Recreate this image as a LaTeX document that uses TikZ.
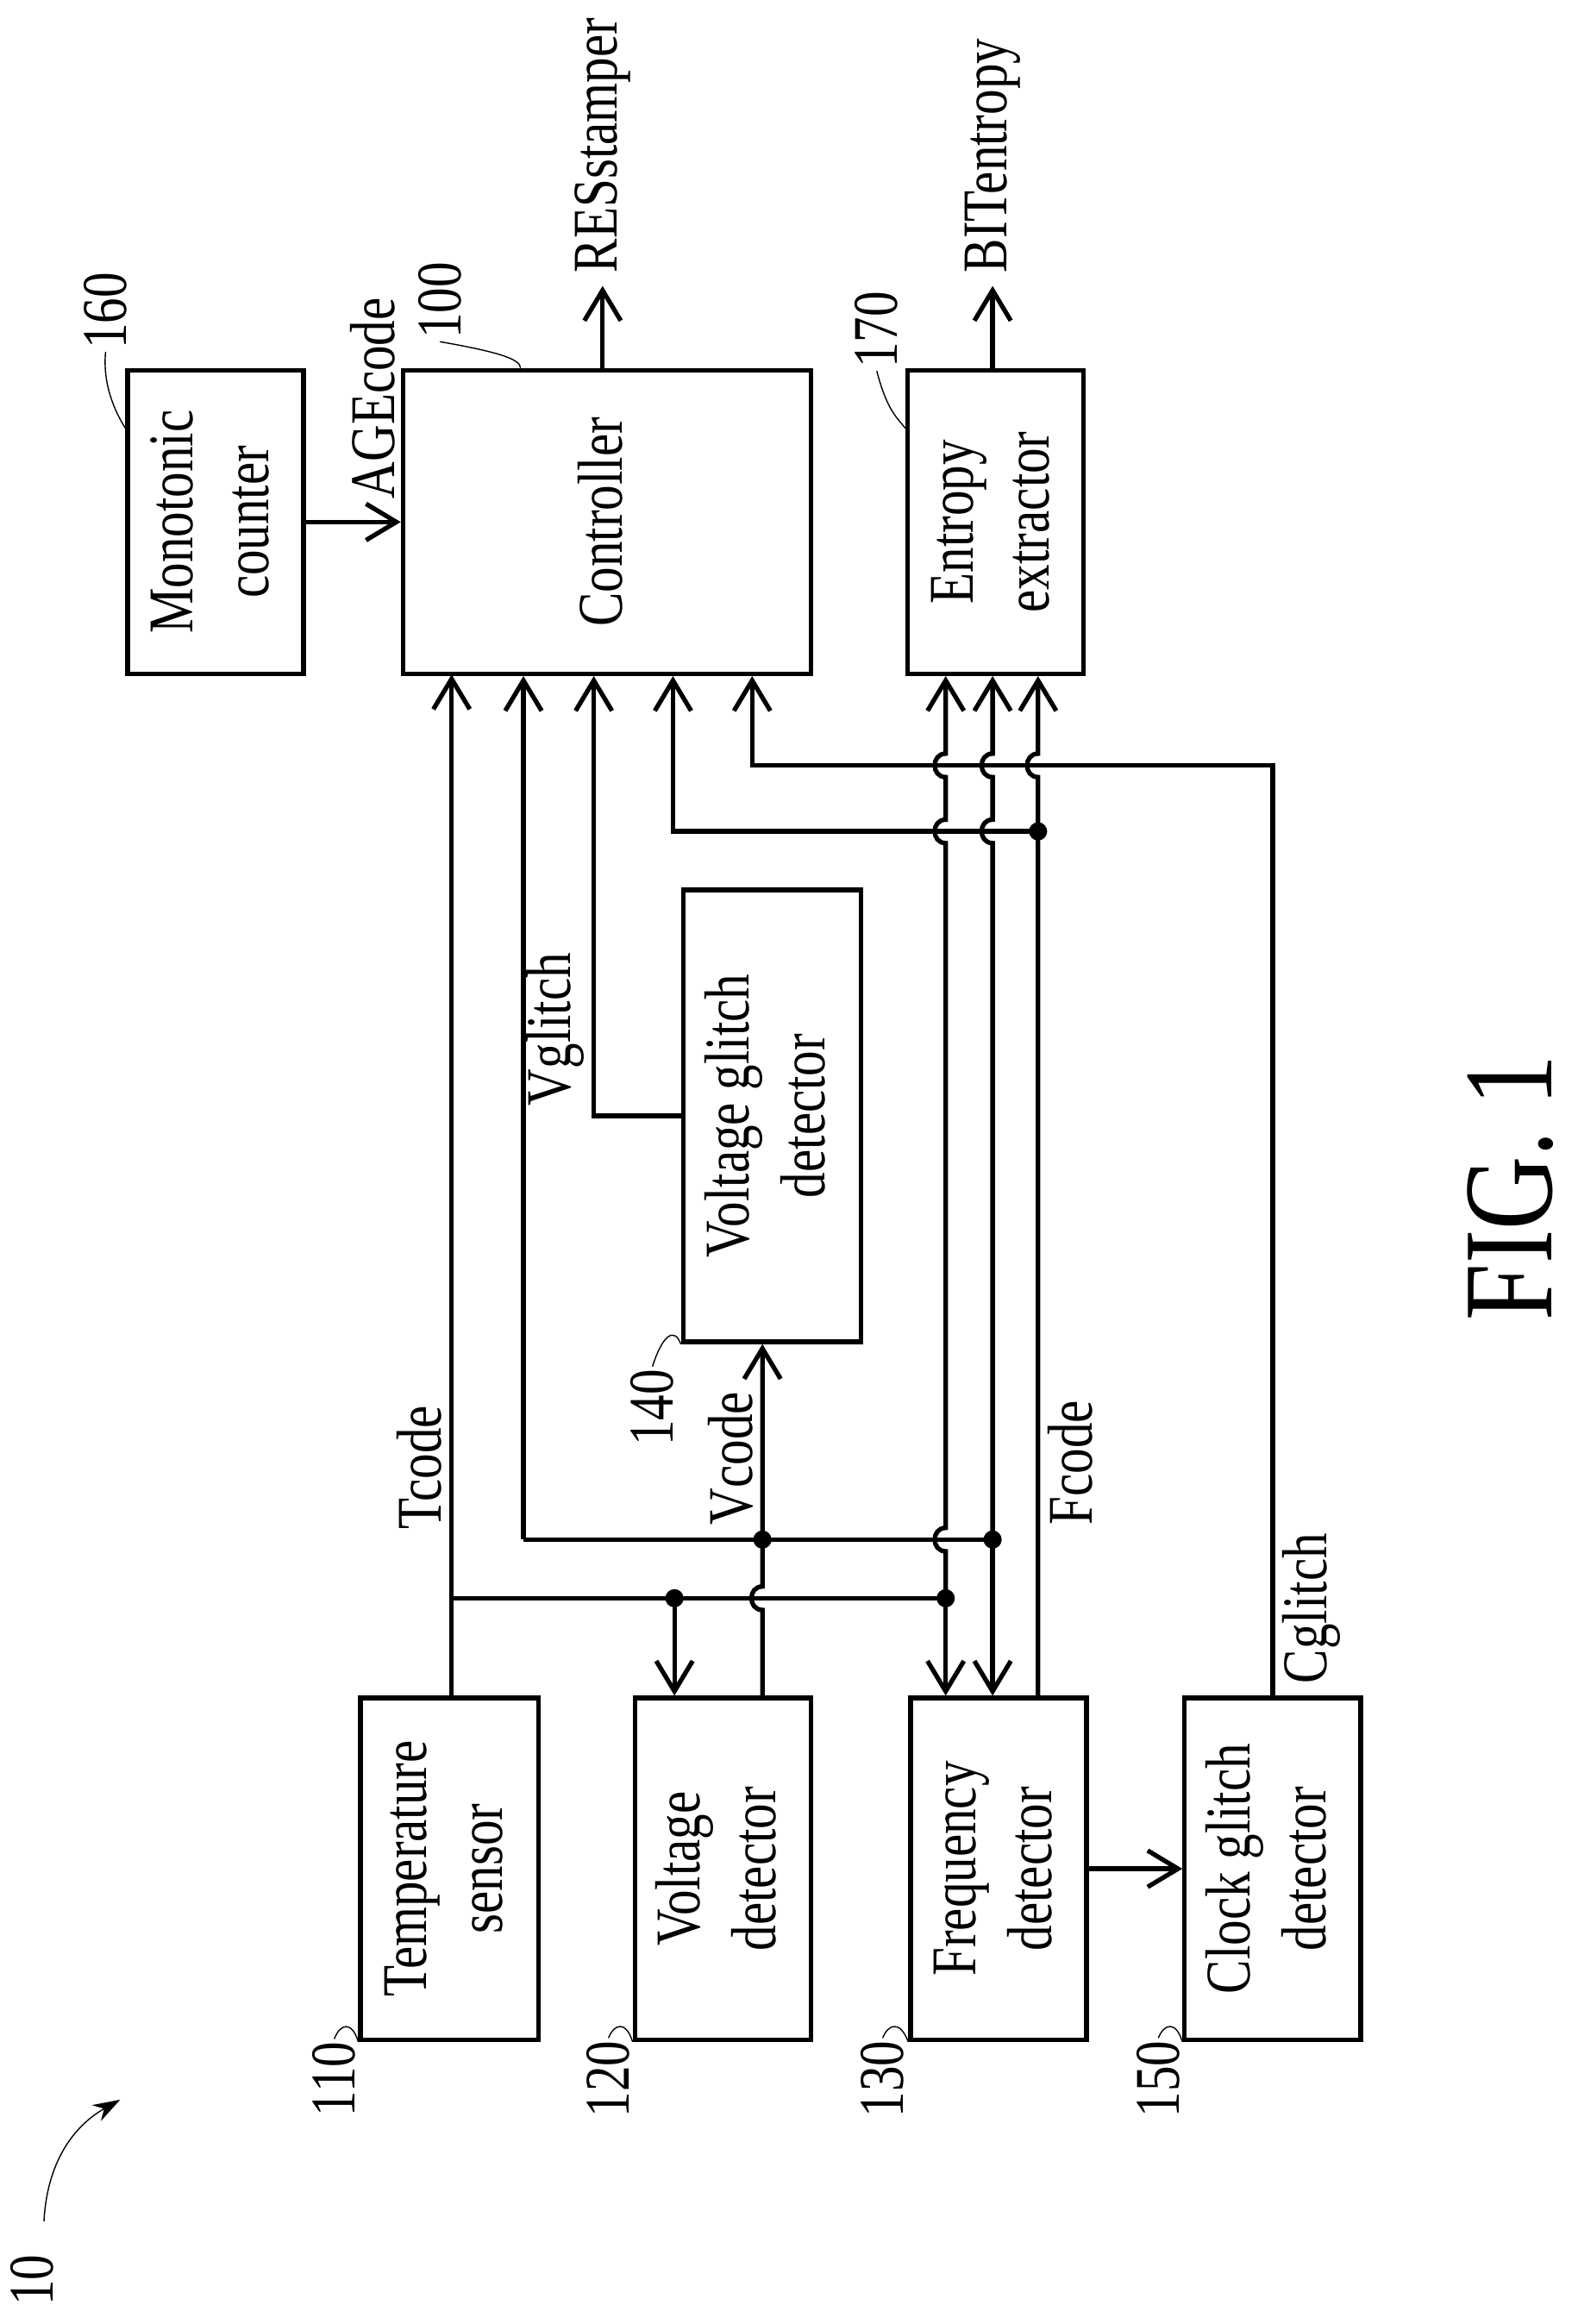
\documentclass[tikz,border=0pt]{standalone}
\usepackage{fontspec}
\setmainfont{Liberation Serif}
\usetikzlibrary{arrows,arrows.meta,positioning}
\newcommand{\rtext}[1]{\rotatebox{90}{\scalebox{.8}[1]{\begin{tabular}{@{}c@{}}#1\end{tabular}}}}
\tikzset{x=0.017cm, y=-0.017cm,
         >=stealth',
         block/.style={draw, line width=1.5pt, inner sep=0pt, font=\fontsize{21}{25}\selectfont},
         sig/.style={line width=1.5pt},
         arr/.style={sig, -{Straight Barb[length=10pt,width=12pt,line width=1.5pt]}},
         lbl/.style={rotate=90, inner sep=1pt, font=\fontsize{21}{25}\selectfont, xscale=.8},
         num/.style={rotate=90, inner sep=1pt, font=\fontsize{21}{25}\selectfont, xscale=.8},
         lead/.style={thin},
         dot/.style={circle, fill, inner sep=0pt, minimum size=6pt},
         }
\begin{document}
\begin{tikzpicture}
    \useasboundingbox (0,0) rectangle (1076,1585);
    % blocks
    \node[block, minimum width=2.04cm, minimum height=3.52cm] (mono) at (147,356) {\rtext{Monotonic\\counter}};
    \node[block, minimum width=4.73cm, minimum height=3.52cm] (ctrl) at (414,356) {\rtext{Controller}};
    \node[block, minimum width=2.04cm, minimum height=3.52cm] (ent) at (679,356) {\rtext{Entropy\\extractor}};
    \node[block, minimum width=2.06cm, minimum height=5.24cm] (vgd) at (526.5,761) {\rtext{Voltage glitch\\detector}};
    \node[block, minimum width=2.06cm, minimum height=3.96cm] (ts) at (306.5,1274.5) {\rtext{Temperature\\sensor}};
    \node[block, minimum width=2.04cm, minimum height=3.96cm] (vd) at (493,1274.5) {\rtext{Voltage\\detector}};
    \node[block, minimum width=2.04cm, minimum height=3.96cm] (fd) at (681,1274.5) {\rtext{Frequency\\detector}};
    \node[block, minimum width=2.04cm, minimum height=3.96cm] (cgd) at (868,1274.5) {\rtext{Clock glitch\\detector}};

    % outputs
    \coordinate (res) at (411,195);
    \coordinate (bit) at (677,195);
    \draw[arr] (ctrl.north -| res) -- (res);
    \draw[arr] (ent.north -| bit) -- (bit);
    \node[lbl, anchor=west] at (411,188) {RESstamper};
    \node[lbl, anchor=west] at (677,188) {BITentropy};
    \draw[arr] (mono.east) -- (ctrl.west);
    \node[lbl, anchor=south west] at (272,342) {AGEcode};

    % junctions
    \node[dot] (jt) at (645,1090) {};
    \node[dot] (jv) at (460,1090) {};
    \node[dot] (ju) at (520,1050) {};
    \node[dot] (jw) at (677,1050) {};
    \node[dot] (jf) at (708,567) {};

    % Tcode
    \draw[arr] (ts.north -| 308,0) -- (308,460);
    \draw[sig] (308,1090) -- (jt.center);
    \draw[arr] (jv.center) -- (vd.north -| jv);
    \draw[arr] (jt.center) -- (fd.north -| jt);
    \draw[arr] (jt.center) -- (645,1058) to[out=180,in=180,looseness=1.6] (645,1042)
        -- (645,575) to[out=180,in=180,looseness=1.6] (645,559)
        -- (645,530) to[out=180,in=180,looseness=1.6] (645,514)
        -- (ent.south -| jt);
    \node[lbl, anchor=south west] at (304,1045) {Tcode};

    % Vcode
    \draw[arr] (vd.north -| ju) -- (520,1098) to[out=180,in=180,looseness=1.6] (520,1082)
        -- (vgd.south -| ju);
    \draw[sig] (jw.center) -- (357,1050);
    \draw[arr] (357,1050) -- (ctrl.south -| 357,0);
    \draw[arr] (jw.center) -- (fd.north -| jw);
    \draw[arr] (jw.center) -- (677,575) to[out=180,in=180,looseness=1.6] (677,559)
        -- (677,530) to[out=180,in=180,looseness=1.6] (677,514)
        -- (ent.south -| jw);
    \node[lbl, anchor=south west] at (516,1042) {Vcode};

    % Vglitch
    \draw[arr] (vgd.west) -| (ctrl.south -| 405,0);
    \node[lbl, anchor=south west] at (401,756) {Vglitch};

    % Fcode
    \draw[arr] (fd.north -| jf) -- (708,530) to[out=180,in=180,looseness=1.6] (708,514)
        -- (ent.south -| jf);
    \draw[arr] (jf.center) -| (ctrl.south -| 459,0);
    \node[lbl, anchor=north west] at (712,1042) {Fcode};

    % Cglitch
    \draw[arr] (cgd.north) |- (513,522) -- (ctrl.south -| 513,0);
    \node[lbl, anchor=north west] at (872,1150) {Cglitch};

    % clock
    \draw[arr] (fd.east) -- (cgd.west);

    % reference numbers
    \node[num] (n160) at (72,212) {160};
    \draw[lead] (n160.west) .. controls (70,262) and (78,280) .. (mono.west |- 0,292);
    \node[num] (n100) at (300,205) {100};
    \draw[lead] (n100.west) .. controls (340,240) and (355,245) .. (ctrl.north -| 355,0);
    \node[num] (n170) at (598,225) {170};
    \draw[lead] (n170.west) .. controls (605,280) and (612,285) .. (ent.west |- 0,292);
    \node[num] (n140) at (445,960) {140};
    \draw[lead] (n140.east) .. controls (452,910) and (460,905) .. (vgd.south west);
    \node[num] (n110) at (228,1418) {110};
    \draw[lead] (n110.east) .. controls (232,1380) and (240,1378) .. (ts.south west);
    \node[num] (n120) at (415,1418) {120};
    \draw[lead] (n120.east) .. controls (419,1380) and (427,1378) .. (vd.south west);
    \node[num] (n130) at (602,1418) {130};
    \draw[lead] (n130.east) .. controls (606,1380) and (614,1378) .. (fd.south west);
    \node[num] (n150) at (790,1418) {150};
    \draw[lead] (n150.east) .. controls (794,1380) and (802,1378) .. (cgd.south west);

    % figure number
    \node[num] (n10) at (22,1555) {10};
    \coordinate (tip) at (82,1432);
    \draw[thin, -{Stealth[length=9pt,width=6pt]}] (30,1515) .. controls (32,1475) and (50,1450) .. (tip);
    \node[rotate=90, font=\fontsize{42}{50}\selectfont, xscale=.8] (fig) at (1030,810) {FIG. 1};
\end{tikzpicture}
\end{document}
